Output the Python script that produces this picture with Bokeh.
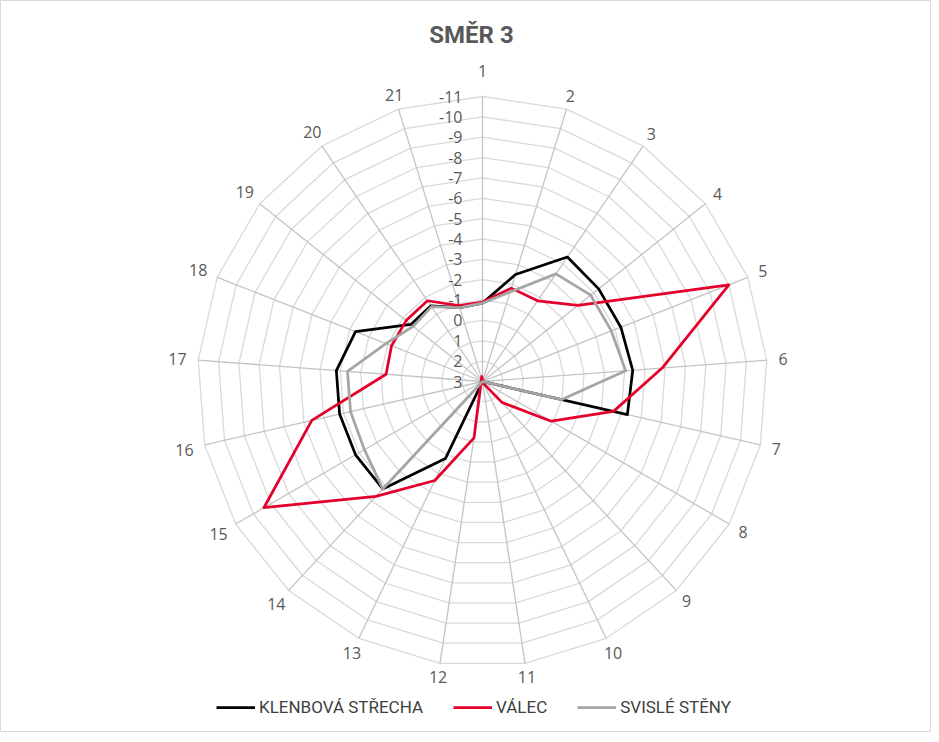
import numpy as np
from bokeh.plotting import figure
from bokeh.models import Range1d, Legend, LegendItem
from bokeh.embed import file_html
from bokeh.resources import INLINE
from bokeh.core.properties import value

# ---------------- data ----------------
categories = [str(i) for i in range(1, 22)]
klenbova_strecha = [-0.85, -2.5, -4.4, -4.3, -4.3, -4.4, -4.3, 3, 3, 3, 3, 3,
                    -1.2, -4.2, -4.2, -4.2, -4.2, -3.7, -1.5, -1.5, -0.8]
valec = [-0.9, -1.8, -1.8, -3.0, -10.0, -5.85, -3.6, -0.9, 1.6, 2.9, 3.25, 0.2,
         -2.4, -4.7, -9.4, -5.6, -1.75, -1.8, -1.8, -1.8, -0.9]
svisle_steny = [-0.85, -1.6, -3.4, -3.8, -3.8, -4.05, -1.0, 3, 3, 3, 3, 3,
                3, -4.2, -3.7, -3.65, -3.65, -2.1, -1.35, -1.45, -0.8]
axis_ticks = list(range(3, -12, -1))  # 3 (centre) ... -11 (outer ring)
series_names = ["KLENBOVÁ STŘECHA", "VÁLEC", "SVISLÉ STĚNY"]
series_values = [klenbova_strecha, valec, svisle_steny]
series_colors = ["#000000", "#E4002B", "#A5A5A5"]
title_text = "SMĚR 3"

# ---------------- layout ----------------
W, H = 931, 732
CX, CY = 482, 381          # centre of radar in canvas px
R = 285.0                  # outer ring radius in px
AX_CENTER, AX_OUTER = axis_ticks[0], axis_ticks[-1]
SC = R / (AX_CENTER - AX_OUTER)

n = len(categories)
theta = np.arange(n) * 2 * np.pi / n
s, c = np.sin(theta), np.cos(theta)


def rad(v):
    return (AX_CENTER - np.asarray(v, dtype=float)) * SC


p = figure(width=W, height=H, output_backend="svg", toolbar_location=None,
           x_range=Range1d(-CX, W - CX), y_range=Range1d(-(H - CY), CY),
           min_border=0, background_fill_color="white", border_fill_color="white")
p.axis.visible = False
p.grid.visible = False
p.outline_line_color = "#D9D9D9"
p.outline_line_width = 1

# rings
ring_xs, ring_ys = [], []
for t in axis_ticks[1:]:
    r = rad(t)
    ring_xs.append(list(np.append(r * s, r * s[0])))
    ring_ys.append(list(np.append(r * c, r * c[0])))
p.multi_line(ring_xs, ring_ys, line_color="#D9D9D9", line_width=1.3)

# spokes
p.segment(x0=np.zeros(n), y0=np.zeros(n), x1=R * s, y1=R * c,
          line_color="#C4C4C4", line_width=1.3)

# radial axis labels
p.text(x=[-20] * len(axis_ticks), y=[rad(t) for t in axis_ticks],
       text=[str(t) for t in axis_ticks], text_align="right",
       text_baseline="middle", text_font=value("Open Sans"),
       text_font_size="16px", text_color="#595959")

# category labels
lab_d = []
for i, lab in enumerate(categories):
    d = R + 12 + 4.5 * len(lab) * abs(s[i])
    if i == 0:
        d += 14
    lab_d.append(d)
lab_d = np.array(lab_d)
p.text(x=lab_d * s, y=lab_d * c, text=categories, text_align="center",
       text_baseline="middle", text_font=value("Open Sans"),
       text_font_size="16px", text_color="#595959")

# series
renderers = []
for name, vals, col in zip(series_names, series_values, series_colors):
    r = rad(vals)
    xs = np.append(r * s, r[0] * s[0])
    ys = np.append(r * c, r[0] * c[0])
    rr = p.line(xs, ys, line_color=col, line_width=2.75, line_join="round")
    renderers.append(rr)

# title
p.text(x=[-11], y=[CY - 34], text=[title_text], text_align="center",
       text_baseline="middle", text_font=value("Roboto"), text_font_style="bold",
       text_font_size="24px", text_color="#595959")

legend = Legend(items=[LegendItem(label=nm, renderers=[rr]) for nm, rr in zip(series_names, renderers)],
                orientation="horizontal", location=(216, 15),
                glyph_width=39, glyph_height=16, label_height=16,
                label_standoff=4, spacing=30, padding=0, margin=0,
                border_line_color=None, background_fill_alpha=0,
                label_text_font="Roboto", label_text_font_size="17px",
                label_text_color="#404040", label_text_baseline="middle")
p.add_layout(legend, "center")

open("out.html", "w").write(file_html(p, INLINE))
